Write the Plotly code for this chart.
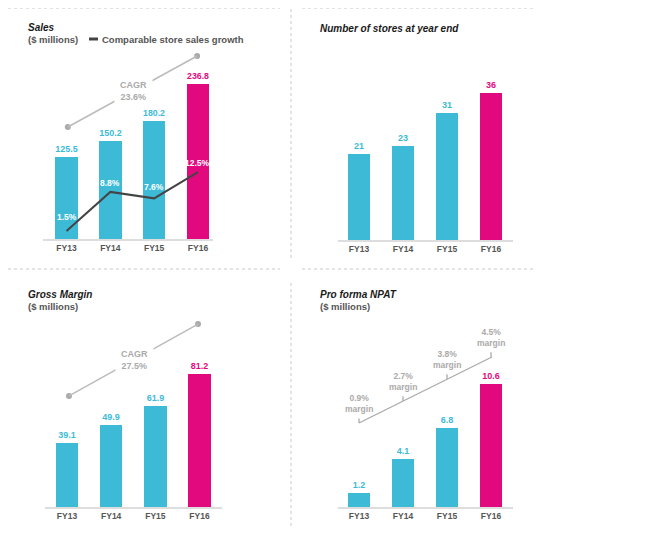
import plotly.graph_objects as go

# ---------------- data ----------------
categories = ["FY13", "FY14", "FY15", "FY16"]
sales = [125.5, 150.2, 180.2, 236.8]
comp_growth = [1.5, 8.8, 7.6, 12.5]
stores = [21, 23, 31, 36]
gross_margin = [39.1, 49.9, 61.9, 81.2]
npat = [1.2, 4.1, 6.8, 10.6]
npat_margin = [0.9, 2.7, 3.8, 4.5]
sales_cagr = 23.6
gm_cagr = 27.5

# ---------------- style ----------------
OFF = 8                      # page body margin
W, H = 645 - 2 * OFF, 545 - 2 * OFF
CYAN = "#3DBBD6"
MAGENTA = "#E2097E"
FONT = "Liberation Sans, Arial, sans-serif"
GREY_TXT = "#555555"
growth_label_shift = [14, 9, 11, 9]   # px above each point

def fx(px):
    return (px - OFF) / W

def fy(py):
    return 1 - (py - OFF) / H

idx = list(range(len(categories)))
bar_colors = [CYAN] * (len(categories) - 1) + [MAGENTA]

fig = go.Figure()

# panel geometry in window pixels
panels = {
    "1": dict(L=43, R=213, c0=66.5, s=43.83, base=239, top=45, scale=0.654),
    "2": dict(L=338, R=513, c0=359, s=44.0, base=240, top=60, scale=4.09),
    "3": dict(L=45, R=222, c0=67, s=44.17, base=507, top=310, scale=1.638),
    "4": dict(L=338, R=513, c0=359, s=44.0, base=507, top=310, scale=11.6),
}

def sfx(n):
    return n if n != "1" else ""

def add_bars(values, n, fmt):
    fig.add_trace(go.Bar(
        x=idx, y=values, xaxis="x" + sfx(n), yaxis="y" + sfx(n),
        marker=dict(color=bar_colors, line=dict(width=0)),
        width=0.51,
        text=[fmt.format(v) for v in values],
        textposition="outside",
        textfont=dict(family=FONT, size=9, color=bar_colors, weight="bold"),
        cliponaxis=False, showlegend=False, hoverinfo="skip",
    ))

add_bars(sales, "1", "{:.1f}")
add_bars(stores, "2", "{:d}")
add_bars(gross_margin, "3", "{:.1f}")
add_bars(npat, "4", "{:.1f}")

# comparable store sales growth line (secondary axis of panel 1)
fig.add_trace(go.Scatter(
    x=idx, y=comp_growth, xaxis="x", yaxis="y5",
    mode="lines",
    line=dict(color="#444444", width=2),
    cliponaxis=False, showlegend=False, hoverinfo="skip",
))

layout = dict(
    width=W, height=H, margin=dict(l=0, r=0, t=0, b=0),
    paper_bgcolor="white", plot_bgcolor="rgba(0,0,0,0)",
    showlegend=False, bargap=0,
)

for n, p in panels.items():
    layout["xaxis" + sfx(n)] = dict(
        domain=[fx(p["L"]), fx(p["R"])],
        range=[(p["L"] - p["c0"]) / p["s"], (p["R"] - p["c0"]) / p["s"]],
        tickvals=idx, ticktext=categories, ticks="",
        tickfont=dict(family=FONT, size=8.5, color=GREY_TXT, weight="bold"),
        showline=True, linecolor="#DDDDDD", linewidth=2,
        showgrid=False, zeroline=False, fixedrange=True,
        anchor="y" + sfx(n),
    )
    layout["yaxis" + sfx(n)] = dict(
        domain=[fy(p["base"]), fy(p["top"])],
        range=[0, (p["base"] - p["top"]) / p["scale"]],
        showgrid=False, zeroline=False, showticklabels=False, showline=False,
        anchor="x" + sfx(n),
    )

p1 = panels["1"]
layout["yaxis5"] = dict(
    overlaying="y", domain=layout["yaxis"]["domain"],
    range=[0, (p1["base"] - p1["top"]) / 5.35],
    showgrid=False, zeroline=False, showticklabels=False, showline=False,
    anchor="x",
)

fig.update_layout(**layout)

shapes = []
annotations = []

for i, v in enumerate(comp_growth):
    annotations.append(dict(
        x=i, y=v, xref="x", yref="y5", showarrow=False, yanchor="middle",
        yshift=growth_label_shift[i], text=f"<b>{v}%</b>",
        font=dict(family=FONT, size=8.5, color="white"),
    ))

def title(px, py, text, size=10, color="#1a1a1a"):
    annotations.append(dict(
        x=fx(px), y=fy(py), xref="paper", yref="paper", xanchor="left", yanchor="middle",
        text=text, showarrow=False, font=dict(family=FONT, size=size, color=color),
    ))

title(26, 27, "<b><i>Sales</i></b>")
title(26, 39, "<b>($ millions)</b>", size=9.5, color=GREY_TXT)
title(100, 39, "<b>Comparable store sales growth</b>", size=9.5, color=GREY_TXT)
shapes.append(dict(type="line", xref="paper", yref="paper",
                   x0=fx(89), x1=fx(98), y0=fy(39), y1=fy(39),
                   line=dict(color="#444444", width=3)))
title(318, 28, "<b><i>Number of stores at year end</i></b>")
title(26, 294, "<b><i>Gross Margin</i></b>")
title(26, 306, "<b>($ millions)</b>", size=9.5, color=GREY_TXT)
title(318, 294, "<b><i>Pro forma NPAT</i></b>")
title(318, 306, "<b>($ millions)</b>", size=9.5, color=GREY_TXT)

# CAGR arrows (decorative, in axis units)
def cagr(xr, yr, x0, y0, x1, y1, label):
    shapes.append(dict(type="line", xref=xr, yref=yr, x0=x0, y0=y0, x1=x1, y1=y1,
                       line=dict(color="#BBBBBB", width=1.5)))
    fig.add_trace(go.Scatter(x=[x0, x1], y=[y0, y1], xaxis=xr, yaxis=yr, mode="markers",
                             marker=dict(color="#AAAAAA", size=6), showlegend=False,
                             hoverinfo="skip", cliponaxis=False))
    annotations.append(dict(
        x=(x0 + x1) / 2 + 0.02, y=(y0 + y1) / 2, xref=xr, yref=yr, showarrow=False,
        text=f"<b>CAGR<br>{label}%</b>", bgcolor="white", borderpad=5,
        font=dict(family=FONT, size=9, color="#AAAAAA"),
    ))

cagr("x", "y", 0.03, 171.3, 2.98, 279.8, sales_cagr)
cagr("x3", "y3", 0.045, 67.8, 2.966, 111.7, gm_cagr)

# NPAT margin line with ticks
m_y0, m_y1 = 7.24, 12.93
shapes.append(dict(type="line", xref="x4", yref="y4", x0=0, x1=3.02, y0=m_y0, y1=m_y1,
                   line=dict(color="#AAAAAA", width=1.3)))
for i, m in enumerate(npat_margin):
    yi = m_y0 + (m_y1 - m_y0) * i / 3
    shapes.append(dict(type="line", xref="x4", yref="y4", x0=i, x1=i, y0=yi, y1=yi + 0.4,
                       line=dict(color="#AAAAAA", width=1.3)))
    annotations.append(dict(
        x=i, y=yi, xref="x4", yref="y4", showarrow=False, yanchor="bottom", yshift=7,
        text=f"<b>{m}%<br>margin</b>", font=dict(family=FONT, size=8.5, color="#AAAAAA"),
    ))

# dotted dividers
def dline(x0, y0, x1, y1):
    shapes.append(dict(type="line", xref="paper", yref="paper",
                       x0=fx(x0), x1=fx(x1), y0=fy(y0), y1=fy(y1),
                       line=dict(color="#C8C8C8", width=1, dash="dot")))

dline(8, 8, 280, 8)
dline(302, 8, 536, 8)
dline(291, 9, 291, 258)
dline(8, 269, 280, 269)
dline(302, 269, 536, 269)
dline(291, 283, 291, 529)

fig.update_layout(shapes=shapes, annotations=annotations)
fig.write_html("out.html")
